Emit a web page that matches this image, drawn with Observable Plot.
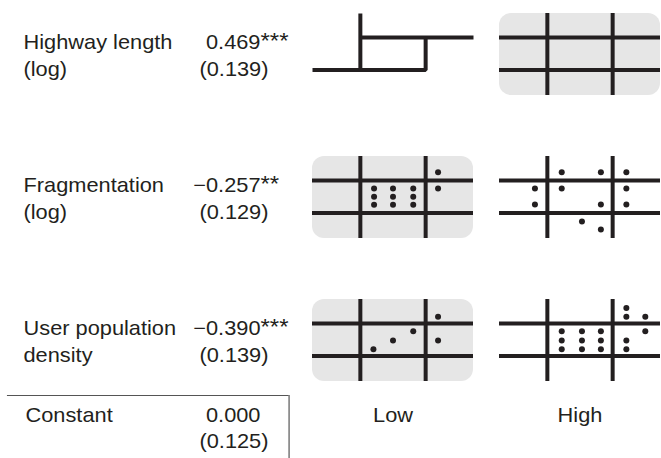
<!DOCTYPE html>
<html><head><meta charset="utf-8">
<script src="https://cdn.jsdelivr.net/npm/d3@7"></script>
<script src="https://cdn.jsdelivr.net/npm/@observablehq/plot@0.6"></script>
<style>html,body{margin:0;padding:0;background:#fff}</style>
</head><body><div id="chart"></div>
<script>
// ---------- data ----------
const variables = ["Highway length (log)", "Fragmentation (log)", "User population density"];
const labelLine1 = ["Highway length", "Fragmentation", "User population"];
const labelLine2 = ["(log)", "(log)", "density"];
const coefficients = ["0.469", "\u22120.257", "\u22120.390"];
const stars = ["***", "**", "***"];
const stdErrors = ["(0.139)", "(0.129)", "(0.139)"];
const constantLabel = "Constant";
const constantCoef = "0.000";
const constantSE = "(0.125)";
const levels = ["Low", "High"];
const shadedLevel = ["High", "Low", "Low"];
const patternLow = ["step", "grid", "grid"];
const patternHigh = ["grid", "grid", "grid"];
const gridAt = [1, 2];
// dots in grid units (road lines at 1 and 2 in each direction)
const dotsLow = [
  [],
  [[1.21,1.75],[1.5,1.75],[1.81,1.75],[1.21,1.5],[1.5,1.5],[1.81,1.5],[1.21,1.25],[1.5,1.25],[1.81,1.25],[2.19,2.25],[2.19,1.75]],
  [[1.2,1.21],[1.5,1.48],[1.81,1.76],[2.19,2.21],[2.19,1.48]]
];
const dotsHigh = [
  [],
  [[0.81,1.75],[0.81,1.26],[1.22,2.25],[1.22,1.75],[1.82,2.25],[1.82,1.26],[1.82,0.49],[1.53,0.74],[2.21,2.25],[2.21,1.75],[2.21,1.26]],
  [[1.22,1.76],[1.53,1.76],[1.82,1.76],[1.22,1.48],[1.53,1.48],[1.82,1.48],[1.22,1.21],[1.53,1.21],[1.82,1.21],[2.21,2.48],[2.21,2.21],[2.5,2.21],[2.5,1.76],[2.21,1.48],[2.21,1.21]]
];

// ---------- layout ----------
const W = 661, H = 458, mL = 312, mT = 12, mB = 77, mR = 0;
const xDom = [0.267, 2.733], yDom = [0.215, 2.738];
const panelW = 161.5, panelH = 82;
const ink = "#231f20";
const lastRow = variables[variables.length - 1];
const uX = px => xDom[0] + (px - mL) * (xDom[1] - xDom[0]) / panelW;
const uY = px => yDom[0] - (px - (H - mB)) * (yDom[1] - yDom[0]) / panelH;

const panels = variables.flatMap((v, i) => [
  {row: v, level: "Low", kind: patternLow[i], shaded: shadedLevel[i] === "Low"},
  {row: v, level: "High", kind: patternHigh[i], shaded: shadedLevel[i] === "High"}
]);
const gridLines = panels.filter(p => p.kind === "grid").flatMap(p => gridAt.map(v => ({...p, v})));
const stepPath = panels.filter(p => p.kind === "step").flatMap(p => [
  {...p, seg: "a", x: xDom[0], y: gridAt[0]}, {...p, seg: "a", x: gridAt[1], y: gridAt[0]}, {...p, seg: "a", x: gridAt[1], y: gridAt[1]},
  {...p, seg: "b", x: gridAt[0], y: gridAt[0]}, {...p, seg: "b", x: gridAt[0], y: yDom[1]},
  {...p, seg: "c", x: gridAt[0], y: gridAt[1]}, {...p, seg: "c", x: xDom[1], y: gridAt[1]}
]);
const dots = variables.flatMap((v, i) => [
  ...dotsLow[i].map(([x, y]) => ({row: v, level: "Low", x, y})),
  ...dotsHigh[i].map(([x, y]) => ({row: v, level: "High", x, y}))
]);
const table = variables.map((v, i) => ({row: v, level: "Low", l1: labelLine1[i], l2: labelLine2[i], coef: coefficients[i], star: stars[i], se: stdErrors[i]}));
const constRow = [{row: lastRow, level: "Low", label: constantLabel, coef: constantCoef, se: constantSE}];

const txt = {fx: "level", fy: "row", frameAnchor: "left", lineAnchor: "bottom", fontSize: 20, fill: ink};
const plot = Plot.plot({
  width: W, height: H,
  marginLeft: mL, marginRight: mR, marginTop: mT, marginBottom: mB,
  style: {fontFamily: "'Liberation Sans', Arial, Helvetica, sans-serif", fontSize: "20px", color: ink, background: "#fff"},
  fx: {domain: levels, paddingInner: 26 / 187.5, paddingOuter: 0, axis: null},
  fy: {domain: variables, paddingInner: 61.5 / 143.5, paddingOuter: 0, axis: null},
  x: {domain: xDom, axis: null},
  y: {domain: yDom, axis: null},
  marks: [
    Plot.rect(panels.filter(p => p.shaded), {fx: "level", fy: "row", x1: xDom[0], x2: xDom[1], y1: yDom[0], y2: yDom[1], rx: 12, fill: "#e6e6e6"}),
    Plot.ruleY(gridLines, {fx: "level", fy: "row", y: "v", stroke: ink, strokeWidth: 4}),
    Plot.ruleX(gridLines, {fx: "level", fy: "row", x: "v", stroke: ink, strokeWidth: 4}),
    Plot.line(stepPath, {fx: "level", fy: "row", x: "x", y: "y", z: "seg", stroke: ink, strokeWidth: 4, strokeLinejoin: "miter", strokeLinecap: "butt"}),
    Plot.dot(dots, {fx: "level", fy: "row", x: "x", y: "y", r: 3, fill: ink}),
    // table
    Plot.text(table, {...txt, text: "l1", textAnchor: "start", dx: 23 - mL, dy: -5.5}),
    Plot.text(table, {...txt, text: "l2", textAnchor: "start", dx: 23 - mL, dy: 21}),
    Plot.text(table, {...txt, text: "coef", textAnchor: "end", dx: 260 - mL, dy: -5.5}),
    Plot.text(table, {...txt, text: "star", textAnchor: "start", dx: 260 - mL, dy: -6.5, fontSize: 22}),
    Plot.text(table, {...txt, text: "se", textAnchor: "end", dx: 268 - mL, dy: 21}),
    // constant row
    Plot.text(constRow, {...txt, frameAnchor: "bottom-left", text: "label", textAnchor: "start", dx: 25 - mL, dy: 40}),
    Plot.text(constRow, {...txt, frameAnchor: "bottom-left", text: "coef", textAnchor: "end", dx: 260 - mL, dy: 40}),
    Plot.text(constRow, {...txt, frameAnchor: "bottom-left", text: "se", textAnchor: "end", dx: 268 - mL, dy: 66}),
    Plot.ruleY(constRow, {fx: "level", fy: "row", y: () => uY(395), x1: () => uX(6), x2: () => uX(288.5), stroke: "#555", strokeWidth: 1.2}),
    Plot.ruleX(constRow, {fx: "level", fy: "row", x: () => uX(288.5), y1: () => uY(395), y2: () => uY(460), stroke: "#555", strokeWidth: 1.2}),
    // level labels
    Plot.text(levels, {fx: d => d, fy: () => lastRow, text: d => d, frameAnchor: "bottom", lineAnchor: "bottom", dy: 40, fontSize: 20, fill: ink})
  ]
});
plot.querySelectorAll("text").forEach(t => {
  const tr = t.getAttribute("transform");
  if (tr) t.setAttribute("transform", tr + " scale(1.09,1)");
});
document.getElementById("chart").appendChild(plot);
</script>
</body></html>
